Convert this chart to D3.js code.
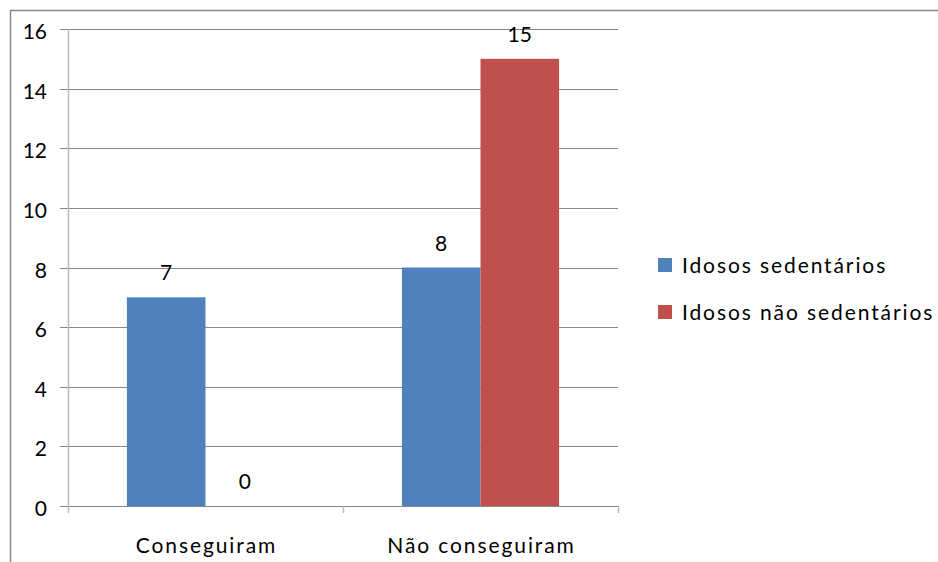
<!DOCTYPE html>
<html>
<head>
<meta charset="utf-8">
<script src="https://cdn.jsdelivr.net/npm/d3@7"></script>
<style>
  html, body { margin: 0; padding: 0; background: #fff; }
  svg { display: block; }
  text { font-family: Lato, "Open Sans", sans-serif; fill: #000; }
</style>
</head>
<body>
<svg id="chart" width="938" height="562"></svg>
<script>
// Chart data
const categories = ["Conseguiram", "Não conseguiram"];
const seriesNames = ["Idosos sedentários", "Idosos não sedentários"];
const sedentarios = [7, 8];
const naoSedentarios = [0, 15];
const yTicks = [0, 2, 4, 6, 8, 10, 12, 14, 16];
const colors = ["#4f81bd", "#c0504d"];

const seriesValues = [sedentarios, naoSedentarios];

const svg = d3.select("#chart");
const W = 938, H = 562;

// Outer chart frame
svg.append("rect")
  .attr("x", 10.5).attr("y", 10.5)
  .attr("width", W + 10).attr("height", H + 10)
  .attr("fill", "none").attr("stroke", "#868686").attr("stroke-width", 1.5);

const plot = { left: 68, right: 618, top: 29, bottom: 506 };

const y = d3.scaleLinear().domain([0, 16]).range([plot.bottom, plot.top]);
const x0 = d3.scaleBand().domain(categories).range([plot.left, plot.right]).paddingInner(0).paddingOuter(0);
// gap width 150% between groups
const groupW = x0.bandwidth() / 3.5 * 2;
const x1 = d3.scaleBand().domain(seriesNames).range([0, groupW]).padding(0);

// Horizontal gridlines with tick stubs to the left of the axis
svg.append("g").selectAll("line")
  .data(yTicks).join("line")
  .attr("x1", plot.left - 8).attr("x2", plot.right)
  .attr("y1", d => Math.round(y(d)) + 0.5).attr("y2", d => Math.round(y(d)) + 0.5)
  .attr("stroke", "#868686").attr("stroke-width", 1);

// Y axis line
svg.append("line")
  .attr("x1", plot.left + 0.5).attr("x2", plot.left + 0.5)
  .attr("y1", plot.top).attr("y2", plot.bottom + 7)
  .attr("stroke", "#b9b9b9").attr("stroke-width", 1.5);

// Category axis tick marks
const catBounds = [plot.left, plot.left + x0.bandwidth(), plot.right];
svg.append("g").selectAll("line")
  .data(catBounds.slice(1)).join("line")
  .attr("x1", d => Math.round(d) + 0.5).attr("x2", d => Math.round(d) + 0.5)
  .attr("y1", plot.bottom).attr("y2", plot.bottom + 7)
  .attr("stroke", "#b9b9b9").attr("stroke-width", 1.5);

// Y tick labels
svg.append("g").selectAll("text")
  .data(yTicks).join("text")
  .attr("x", 47).attr("y", d => y(d) + 10)
  .attr("text-anchor", "end")
  .attr("font-size", 21)
  .text(d => d);

// Bars and value labels
const groups = svg.append("g").selectAll("g")
  .data(categories).join("g")
  .attr("transform", c => `translate(${x0(c) + (x0.bandwidth() - groupW) / 2},0)`);

groups.each(function(c, ci) {
  const g = d3.select(this);
  seriesNames.forEach((s, si) => {
    const v = seriesValues[si][ci];
    g.append("rect")
      .attr("x", x1(s)).attr("width", x1.bandwidth())
      .attr("y", y(v)).attr("height", y(0) - y(v))
      .attr("fill", colors[si]);
    g.append("text")
      .attr("x", x1(s) + x1.bandwidth() / 2)
      .attr("y", y(v) - 17)
      .attr("text-anchor", "middle")
      .attr("font-size", 21)
      .text(v);
  });
});

// Category labels
svg.append("g").selectAll("text")
  .data(categories).join("text")
  .attr("x", c => x0(c) + x0.bandwidth() / 2 + 1)
  .attr("y", 553)
  .attr("text-anchor", "middle")
  .attr("font-size", 21)
  .attr("letter-spacing", 1.9)
  .text(c => c);

// Legend
const legend = svg.append("g").selectAll("g")
  .data(seriesNames).join("g")
  .attr("transform", (d, i) => `translate(658,${258 + i * 47})`);
legend.append("rect")
  .attr("width", 14).attr("height", 14)
  .attr("fill", (d, i) => colors[i]);
legend.append("text")
  .attr("x", 24).attr("y", 15)
  .attr("font-size", 21)
  .attr("letter-spacing", 1.9)
  .text(d => d);
</script>
</body>
</html>
